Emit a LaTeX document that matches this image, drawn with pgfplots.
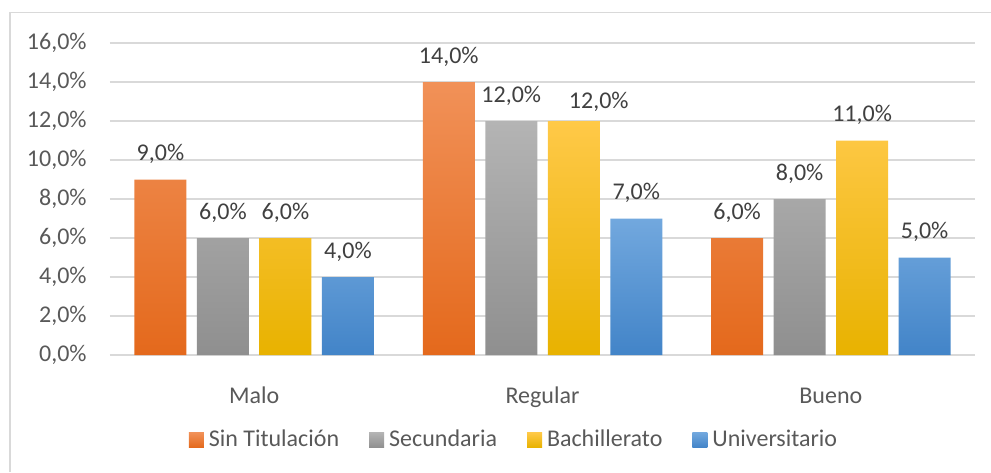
\documentclass[border=0pt]{standalone}
\usepackage{pgfplots}
\pgfplotsset{compat=1.18}
\usepackage{fontspec}
\setmainfont{Carlito}
\definecolor{txt}{HTML}{595959}
\definecolor{lbl}{HTML}{404040}
\definecolor{gridc}{HTML}{D9D9D9}
\definecolor{framec}{HTML}{D9D9D9}
\pgfkeys{/pgf/number format/assume math mode=true}
\pgfplotsset{lg/.style={legend image code/.code={\path[##1,draw=none] (0pt,-3.75pt) rectangle (7.5pt,3.75pt);}}}
\begin{document}
\fontsize{12}{14}\selectfont
\begin{tikzpicture}[x=1pt,y=1pt]
\useasboundingbox (0,0) rectangle (495.5,-236);
\draw[color=framec, line width=0.75pt] (5,-236) -- (5,-6.25) -- (495.5,-6.25);
\begin{axis}[
  at={(55pt,-177.5pt)}, anchor=south west,
  scale only axis, width=432.5pt, height=156pt,
  xmin=-0.5, xmax=2.5, ymin=0, ymax=16, enlargelimits=false,
  ytick={0,2,...,16}, xtick={0,1,2}, xticklabels={Malo,Regular,Bueno},
  ybar=5.25pt, bar width=26pt,
  ymajorgrids, grid style={draw=gridc, line width=0.8pt},
  axis line style={draw=none}, tick style={draw=none},
  font=\fontsize{12}{14}\selectfont,
  yticklabel={\pgfmathprintnumber[fixed,fixed zerofill,precision=1,use comma]{\tick}\%},
  yticklabel style={anchor=east, inner sep=0pt, xshift=-11.5pt, text=txt},
  xticklabel style={anchor=base, inner sep=0pt, yshift=-20pt, text=txt},
  nodes near coords={\pgfmathprintnumber[fixed,fixed zerofill,precision=1,use comma]{\pgfplotspointmeta}\%},
  nodes near coords style={anchor=base, inner sep=0pt, yshift=9.5pt, text=lbl, font=\fontsize{12}{14}\selectfont},
  legend columns=4,
  legend style={at={(0.4659,-0.2724)}, anchor=center, draw=none, fill=none, text=txt,
    nodes={inner sep=0pt}, font=\fontsize{12}{14}\selectfont,
    /tikz/every odd column/.append style={column sep=2.5pt},
    /tikz/every even column/.append style={column sep=15pt}},
  legend cell align=left,
]
\addplot[draw=none, top color={rgb,255:red,241;green,145;blue,88}, bottom color={rgb,255:red,228;green,105;blue,28}, lg]
  coordinates {(0,9) (1,14) (2,6)};
\addplot[draw=none, top color={rgb,255:red,180;green,180;blue,180}, bottom color={rgb,255:red,143;green,143;blue,143}, lg]
  coordinates {(0,6) (1,12) (2,8)};
\addplot[draw=none, top color={rgb,255:red,255;green,201;blue,72}, bottom color={rgb,255:red,232;green,178;blue,0}, lg,
  visualization depends on={x \as \xv},
  every node near coord/.append style={xshift={(abs(\xv-1)<0.01)*12.5pt}, yshift={(abs(\xv-1)<0.01)*(-3pt)}}]
  coordinates {(0,6) (1,12) (2,11)};
\addplot[draw=none, top color={rgb,255:red,114;green,168;blue,222}, bottom color={rgb,255:red,66;green,132;blue,200}, lg]
  coordinates {(0,4) (1,7) (2,5)};
\legend{Sin Titulación, Secundaria, Bachillerato, Universitario}
\end{axis}
\end{tikzpicture}
\end{document}
